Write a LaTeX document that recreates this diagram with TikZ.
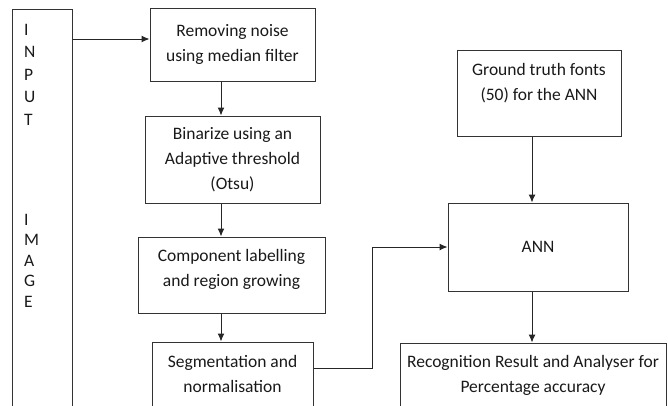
\documentclass[tikz,border=0pt]{standalone}
\usepackage{fontspec}
\usetikzlibrary{arrows.meta}
\setmainfont{Carlito}
\tikzset{
  stage/.style={draw=black!80, line width=1pt, align=center, inner sep=0pt},
  txt/.style={align=center, inner sep=0pt},
  flow/.style={draw=black!85, line width=1pt, -{Latex[length=8pt,width=7pt]}},
}
\begin{document}
\begin{tikzpicture}[x=1pt, y=-1pt, font=\fontsize{17.5}{25}\selectfont, text=black!90]
    \useasboundingbox (0,0) rectangle (668,405);
    \clip (0,0) rectangle (668,405);
    % input column
    \node[stage, minimum width=60, minimum height=410, anchor=north west] (input) at (12,9) {};
    \node[txt, align=left, anchor=north west, font=\fontsize{17.5}{22.5}\selectfont] (inword) at (24,24) {I\\N\\P\\U\\T};
    \node[txt, align=left, anchor=north west, font=\fontsize{17.5}{20.5}\selectfont] (imword) at (24,214) {I\\M\\A\\G\\E};
    % left chain
    \node[stage, minimum width=165, minimum height=73] (noise) at (232.5,44.5) {Removing noise\\using median filter};
    \node[stage, minimum width=175, minimum height=87] (binar) at (232.5,159.5) {Binarize using an\\Adaptive threshold\\(Otsu)};
    \node[stage, minimum width=187, minimum height=76] (comp) at (231.5,275) {};
    \node[txt] (comptxt) at (231.5,269.5) {Component labelling\\and region growing};
    \node[stage, minimum width=161, minimum height=64] (seg) at (232.5,374) {Segmentation and\\normalisation};
    % right chain
    \node[stage, minimum width=164, minimum height=86] (truth) at (539,93) {};
    \node[txt] (truthtxt) at (539,83) {Ground truth fonts\\(50) for the ANN};
    \node[stage, minimum width=180, minimum height=88] (ann) at (538,247) {ANN};
    \node[stage, minimum width=266, minimum height=64] (result) at (533,375) {Recognition Result and Analyser for\\Percentage accuracy};
    % connectors
    \coordinate (inout) at (72,39);
    \coordinate (spine) at (221,0);
    \coordinate (rspine) at (532,0);
    \coordinate (segout) at (313,368);
    \coordinate (elbow) at (372,247);
    \draw[flow] (input.east |- inout) -- (noise.west |- inout);
    \draw[flow] (noise.south -| spine) -- (binar.north -| spine);
    \draw[flow] (binar.south -| spine) -- (comp.north -| spine);
    \draw[flow] (comp.south -| spine) -- (seg.north -| spine);
    \draw[flow] (seg.east |- segout) -| (elbow) -- (ann.west);
    \draw[flow] (truth.south -| rspine) -- (ann.north -| rspine);
    \draw[flow] (ann.south -| rspine) -- (result.north -| rspine);
\end{tikzpicture}
\end{document}
